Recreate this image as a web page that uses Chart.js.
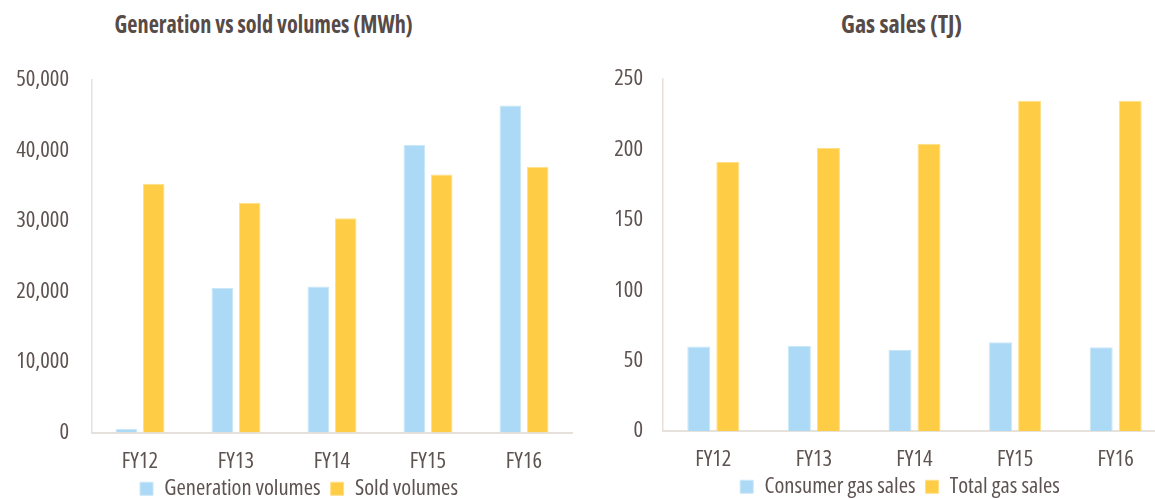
<!DOCTYPE html>
<html>
<head>
<meta charset="utf-8">
<script src="https://cdn.jsdelivr.net/npm/chart.js@4.4.1/dist/chart.umd.min.js"></script>
<style>
  html, body { margin: 0; padding: 0; background: #ffffff; overflow: hidden; width: 1155px; height: 499px; }
  .panel { position: absolute; top: 0; height: 530px; }
  .title {
    position: absolute; top: 8px; width: 500px; text-align: center;
    font-weight: bold; font-size: 25px; color: #574b48; line-height: 30px; white-space: nowrap;
  }
  .title span { display: inline-block; transform-origin: 50% 50%; }
</style>
</head>
<body>
<div class="title" style="left:14px;"><span id="t1">Generation vs sold volumes (MWh)</span></div>
<div class="title" style="left:651px;"><span id="t2">Gas sales (TJ)</span></div>
<div class="panel" style="left:0px; width:598px;"><canvas id="power"></canvas></div>
<div class="panel" style="left:600px; width:590px;"><canvas id="gas"></canvas></div>
<script>
// Financial years shown on both charts
const categories = ['FY12', 'FY13', 'FY14', 'FY15', 'FY16'];

// Electricity (MWh)
const generationVolumes = [500, 20500, 20700, 40800, 46400];
const soldVolumes = [35300, 32600, 30400, 36600, 37700];
const powerTicks = [0, 10000, 20000, 30000, 40000, 50000];

// Gas (TJ)
const consumerGasSales = [60, 60.5, 57.5, 63, 59.5];
const totalGasSales = [191, 201, 204, 234.5, 234.5];
const gasTicks = [0, 50, 100, 150, 200, 250];

const TEXT = '#5d5350';
const AXIS = '#e6e1db';
const BLUE = '#acd9f5';
const YELLOW = '#fecd45';

// Pick the narrowest installed sans face for the condensed look of the labels
function pickFace() {
  const ctx = document.createElement('canvas').getContext('2d');
  const faces = [
    { stretch: '', family: '"Liberation Sans Narrow"' },
    { stretch: 'condensed', family: '"Noto Sans"' },
    { stretch: 'condensed', family: '"Open Sans"' },
    { stretch: 'condensed', family: 'Roboto' },
    { stretch: '', family: '"DejaVu Sans Condensed"' },
    { stretch: '', family: 'Roboto' }
  ];
  let best = null;
  for (const f of faces) {
    ctx.font = '100px monospace';
    const spec = (f.stretch ? f.stretch + ' ' : '') + '100px ' + f.family;
    ctx.font = spec;
    if (ctx.font.indexOf('monospace') !== -1) continue;
    const w = ctx.measureText('Generation volumes').width;
    if (!best || w < best.w - 1) best = Object.assign({ w: w }, f);
  }
  return best;
}
const face = pickFace();
// text size giving the legend label a width of about 160px, kept within a sensible range
const SIZE = Math.max(19, Math.min(22.5, 160 / (face.w / 100)));
const weightFor = (bold) => (face.stretch ? face.stretch + ' ' : '') + (bold ? 'bold' : 'normal');

Chart.defaults.font.family = face.family;
Chart.defaults.color = TEXT;

// Titles: same face, narrowed to their set widths
[['t1', 298], ['t2', 121]].forEach(([id, target]) => {
  const el = document.getElementById(id);
  el.style.fontFamily = face.family;
  if (face.stretch) el.style.fontStretch = face.stretch;
  const w = el.getBoundingClientRect().width;
  if (w > 0) el.style.transform = 'scaleX(' + (target / w).toFixed(3) + ')';
});

// Moves the legend sideways so it sits centred under the whole panel
const legendShift = {
  id: 'legendShift',
  afterLayout(chart, args, opts) {
    if (chart.legend && opts.dx) {
      chart.legend.left += opts.dx;
      chart.legend.right += opts.dx;
    }
  }
};

function barChart(id, labels, series, ticks, geom) {
  const tickFont = { size: SIZE, weight: weightFor(false) };
  return new Chart(document.getElementById(id), {
    type: 'bar',
    plugins: [legendShift],
    data: {
      labels: labels,
      datasets: series.map(s => ({
        label: s.label,
        data: s.data,
        backgroundColor: s.color,
        borderColor: s.edge,
        borderWidth: 1,
        categoryPercentage: geom.cat,
        barPercentage: geom.bar
      }))
    },
    options: {
      responsive: true,
      maintainAspectRatio: false,
      animation: false,
      layout: { padding: geom.padding },
      plugins: {
        title: { display: false },
        tooltip: { enabled: false },
        legendShift: { dx: geom.legendDx },
        legend: {
          position: 'bottom',
          labels: {
            boxWidth: 13, boxHeight: 13, padding: 10,
            font: tickFont, color: TEXT
          }
        }
      },
      scales: {
        x: {
          grid: { display: false, drawTicks: false },
          border: { display: true, color: AXIS, width: 2 },
          ticks: { font: tickFont, color: TEXT, padding: geom.xPad, maxRotation: 0 },
          afterFit: s => {
            s.height = geom.xHeight;
            // category labels may run a little into the legend band below
            s._computeLabelArea = () => undefined;
          }
        },
        y: {
          min: ticks[0],
          max: ticks[ticks.length - 1],
          grid: { display: false, drawTicks: false },
          border: { display: true, color: AXIS, width: 1.5 },
          afterBuildTicks: s => { s.ticks = ticks.map(v => ({ value: v })); },
          ticks: {
            font: tickFont, color: TEXT, padding: geom.yPad,
            callback: v => Number(v).toLocaleString('en-US')
          },
          afterFit: s => { s.width = geom.yWidth; }
        }
      }
    }
  });
}

barChart('power', categories, [
  { label: 'Generation volumes', data: generationVolumes, color: BLUE, edge: '#c9e7f9' },
  { label: 'Sold volumes', data: soldVolumes, color: YELLOW, edge: '#ffdf86' }
], powerTicks, {
  cat: 0.573, bar: 0.78,
  padding: { top: 80, left: 0, right: 26, bottom: 20 },
  xHeight: 35, xPad: 16, yPad: 23, yWidth: 92, legendDx: 13
});

barChart('gas', categories, [
  { label: 'Consumer gas sales', data: consumerGasSales, color: BLUE, edge: '#c9e7f9' },
  { label: 'Total gas sales', data: totalGasSales, color: YELLOW, edge: '#ffdf86' }
], gasTicks, {
  cat: 0.577, bar: 0.793,
  padding: { top: 79, left: 0, right: 24, bottom: 22 },
  xHeight: 34.5, xPad: 15, yPad: 20, yWidth: 63, legendDx: 17
});
</script>
</body>
</html>
